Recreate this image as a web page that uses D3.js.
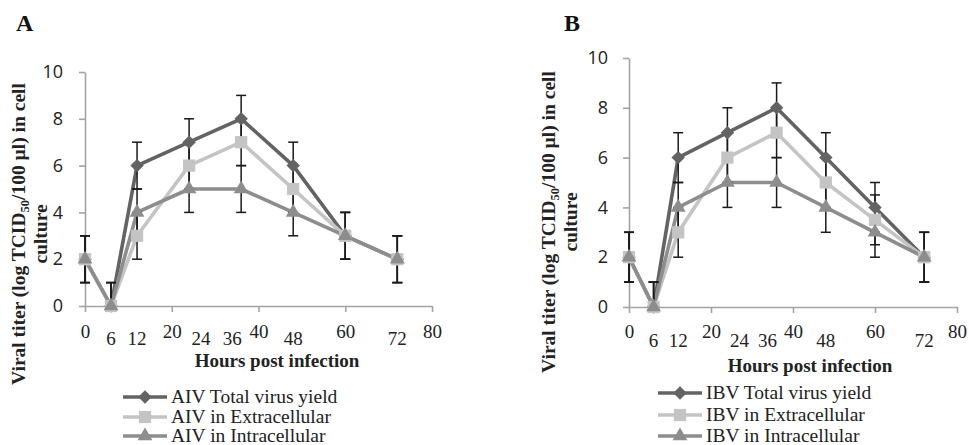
<!DOCTYPE html>
<html>
<head>
<meta charset="utf-8">
<script src="https://cdn.jsdelivr.net/npm/d3@7"></script>
<style>
  body { margin: 0; background: #fff; }
  svg { display: block; }
</style>
</head>
<body>
<svg width="969" height="445"></svg>
<script>
// hours post infection
var hours = [0, 6, 12, 24, 36, 48, 60, 72];

// AIV (panel A)
var aivTotal = [2, 0, 6, 7, 8, 6, 3, 2];
var aivExtra = [2, 0, 3, 6, 7, 5, 3, 2];
var aivIntra = [2, 0, 4, 5, 5, 4, 3, 2];

// IBV (panel B)
var ibvTotal = [2, 0, 6, 7, 8, 6, 4, 2];
var ibvExtra = [2, 0, 3, 6, 7, 5, 3.5, 2];
var ibvIntra = [2, 0, 4, 5, 5, 4, 3, 2];

// error bar (+/-) for every point
var errBar = [1, 1, 1, 1, 1, 1, 1, 1];

var xTicks = [0, 20, 40, 60, 80];
var yTicks = [0, 2, 4, 6, 8, 10];
var hourLabels = [6, 12, 24, 36, 48, 72];
var seriesNames = ["Total virus yield", "in Extracellular", "in Intracellular"];

var colors = ["#636363", "#c4c4c4", "#8d8d8d"];

// excel style diamond (square turned 45 degrees)
var symDiamond = {
  draw: function (ctx, size) {
    var r = Math.sqrt(size / 2);
    ctx.moveTo(0, -r); ctx.lineTo(r, 0); ctx.lineTo(0, r); ctx.lineTo(-r, 0); ctx.closePath();
  }
};
var symbols = [
  d3.symbol().type(symDiamond).size(90),
  d3.symbol().type(d3.symbolSquare).size(150),
  d3.symbol().type(d3.symbolTriangle).size(95)
];

var serif = "'Liberation Serif', 'Times New Roman', serif";
var sans = "'Open Sans', 'Noto Sans', sans-serif";
var svg = d3.select("svg");

function drawPanel(p) {
  var x = d3.scaleLinear().domain([0, 80]).range([p.left, p.right]);
  var y = d3.scaleLinear().domain([0, 10]).range([p.bottom, p.top]);
  var g = svg.append("g").attr("class", "panel");

  // y axis
  var yAx = g.append("g")
    .attr("transform", "translate(" + p.left + ",0)")
    .call(d3.axisLeft(y).tickValues(yTicks).tickSize(6).tickSizeOuter(0).tickPadding(p.yPad));
  yAx.select(".domain").attr("stroke", "#a3a3a3").attr("stroke-width", 1.6);
  yAx.selectAll(".tick line").attr("stroke", "#a3a3a3").attr("stroke-width", 1.6);
  yAx.selectAll("text").attr("font-family", sans).attr("font-size", 18).attr("fill", "#222");

  // x axis
  var xAx = g.append("g")
    .attr("transform", "translate(0," + p.bottom + ")")
    .call(d3.axisBottom(x).tickValues(xTicks).tickSize(6).tickSizeOuter(0));
  xAx.select(".domain").attr("stroke", "#a3a3a3").attr("stroke-width", 1.6);
  xAx.selectAll(".tick line").attr("stroke", "#a3a3a3").attr("stroke-width", 1.6);
  xAx.selectAll("text")
    .attr("font-family", serif).attr("font-size", 19).attr("fill", "#222")
    .attr("dy", 0).attr("y", 338 - p.bottom);

  // the hand placed hour labels under the axis
  var nudge = {24: 12, 36: -9};
  g.selectAll("text.hour")
    .data(hourLabels)
    .enter().append("text")
    .attr("class", "hour")
    .attr("x", function (d) { return x(d) + (nudge[d] || 0); })
    .attr("y", p.hourY)
    .attr("text-anchor", "middle")
    .attr("font-family", serif).attr("font-size", 19).attr("fill", "#222")
    .text(function (d) { return d; });

  var line = d3.line()
    .x(function (d, i) { return x(hours[i]); })
    .y(function (d) { return y(d); });

  // lines
  p.series.forEach(function (s, k) {
    g.append("path")
      .datum(s)
      .attr("fill", "none")
      .attr("stroke", colors[k])
      .attr("stroke-width", 3.6)
      .attr("stroke-linejoin", "round")
      .attr("d", line);
  });

  // error bars
  p.series.forEach(function (s) {
    s.forEach(function (v, i) {
      var cx = x(hours[i]);
      var lo = Math.max(0, v - errBar[i]), hi = v + errBar[i];
      g.append("line").attr("x1", cx).attr("x2", cx).attr("y1", y(lo)).attr("y2", y(hi))
        .attr("stroke", "#1a1a1a").attr("stroke-width", 1.5);
      [lo, hi].forEach(function (e) {
        g.append("line").attr("x1", cx - 5).attr("x2", cx + 5).attr("y1", y(e)).attr("y2", y(e))
          .attr("stroke", "#1a1a1a").attr("stroke-width", 1.5);
      });
    });
  });

  // markers
  p.series.forEach(function (s, k) {
    g.selectAll(null)
      .data(s)
      .enter().append("path")
      .attr("transform", function (d, i) { return "translate(" + x(hours[i]) + "," + y(d) + ")"; })
      .attr("d", symbols[k])
      .attr("fill", colors[k]);
  });

  // panel letter
  g.append("text")
    .attr("x", p.letterX).attr("y", 31)
    .attr("font-family", serif).attr("font-weight", "bold").attr("font-size", 24)
    .attr("fill", "#111")
    .text(p.letter);

  // y title (two lines)
  var yt = g.append("text")
    .attr("transform", "rotate(-90)")
    .attr("text-anchor", "middle")
    .attr("font-family", serif).attr("font-weight", "bold").attr("font-size", 19.5)
    .attr("fill", "#222");
  var l1 = yt.append("tspan").attr("x", -p.yTitleY).attr("y", p.yTitleX1);
  l1.append("tspan").text("Viral titer (log TCID");
  l1.append("tspan").attr("font-size", 12.5).attr("dy", 4).text("50");
  l1.append("tspan").attr("dy", -4).text("/100 µl) in cell");
  yt.append("tspan").attr("x", -p.yTitleY).attr("y", p.yTitleX2).text("culture");

  // x title
  g.append("text")
    .attr("x", p.xTitleX).attr("y", p.xTitleY)
    .attr("text-anchor", "middle")
    .attr("font-family", serif).attr("font-weight", "bold").attr("font-size", 19)
    .attr("fill", "#222")
    .text("Hours post infection");

  // legend
  var leg = g.append("g");
  p.series.forEach(function (s, k) {
    var ly = p.legRows[k];
    leg.append("line")
      .attr("x1", p.legX).attr("x2", p.legX + 44).attr("y1", ly).attr("y2", ly)
      .attr("stroke", colors[k]).attr("stroke-width", 3.6);
    leg.append("path")
      .attr("transform", "translate(" + (p.legX + 22) + "," + ly + ")")
      .attr("d", symbols[k])
      .attr("fill", colors[k]);
    leg.append("text")
      .attr("x", p.legX + 48).attr("y", ly + 6)
      .attr("font-family", serif).attr("font-size", 19.5).attr("fill", "#222")
      .text(p.prefix + " " + seriesNames[k]);
  });
}

drawPanel({
  letter: "A", letterX: 16, prefix: "AIV",
  series: [aivTotal, aivExtra, aivIntra],
  left: 85, right: 432, top: 72, bottom: 306, yPad: 16,
  hourY: 345,
  yTitleX1: 25, yTitleX2: 47, yTitleY: 234,
  xTitleX: 277, xTitleY: 367,
  legX: 123, legRows: [397, 417, 436]
});

drawPanel({
  letter: "B", letterX: 564, prefix: "IBV",
  series: [ibvTotal, ibvExtra, ibvIntra],
  left: 629, right: 957, top: 58, bottom: 307, yPad: 15,
  hourY: 347,
  yTitleX1: 555, yTitleX2: 577, yTitleY: 222,
  xTitleX: 810, xTitleY: 372,
  legX: 658, legRows: [393, 415, 436]
});
</script>
</body>
</html>
